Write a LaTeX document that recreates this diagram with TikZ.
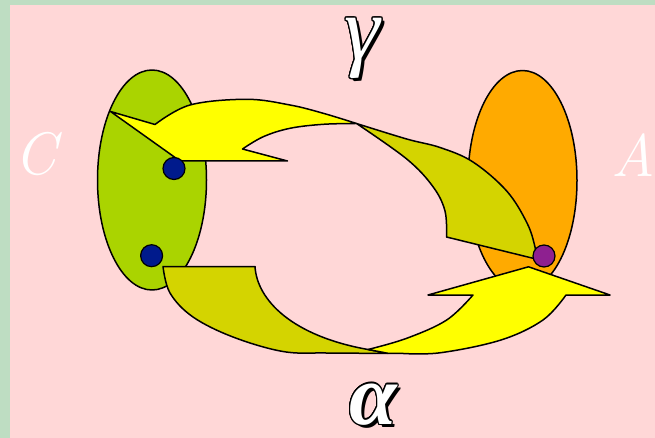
\documentclass[tikz,border=0pt]{standalone}
\usepackage{fontspec}
\usepackage{contour}
\usetikzlibrary{shapes.geometric}
\newfontfamily\grk{Liberation Serif}
\definecolor{bggreen}{HTML}{BEDDC2}
\definecolor{bgpink}{HTML}{FFD7D7}
\definecolor{limeg}{HTML}{AAD400}
\definecolor{orng}{HTML}{FFAA00}
\definecolor{yel}{HTML}{FFFF00}
\definecolor{olivey}{HTML}{D4D400}
\definecolor{dotblue}{HTML}{001A8C}
\definecolor{dotpurp}{HTML}{8E2090}
\contourlength{1.1pt}
\newcommand\embossed[1]{\makebox[0pt][l]{\hspace{3.5pt}\raisebox{-3.5pt}{\textcolor{black}{#1}}}\contour{black}{#1}}
\begin{document}
\begin{tikzpicture}[x=1pt,y=-1pt,line join=round,
  outl/.style={draw=black,line width=1.5pt},
  setell/.style={ellipse,draw=black,line width=1.5pt,minimum width=109pt,minimum height=220pt,inner sep=0pt},
  elem/.style={circle,draw=black,line width=1.2pt,minimum size=22pt,inner sep=0pt},
  catlabel/.style={text=white,font=\fontsize{60}{60}\selectfont\itshape,inner sep=0pt},
  greek/.style={text=white,inner sep=0pt}]
\useasboundingbox (0,0) rectangle (655,438);
\fill[bggreen] (0,0) rectangle (655,438);
\fill[bgpink] (10,5) rectangle (655,438);
% sets
\node[setell,fill=limeg] (setC) at (152,180) {};
\node[setell,fill=orng] (setA) at (522.5,180.5) {};
% top arrow, yellow part with head
\draw[outl,fill=yel] (110.5,111.5) -- (155,124.5)
  -- plot[smooth,tension=0.6] coordinates {(155,124.5) (190,105) (246.7,99.3) (290,105) (323.3,113.3) (356.5,123.5)}
  -- plot[smooth,tension=0.6] coordinates {(356.5,123.5) (323.3,124.3) (290,128.3) (263.3,136.7) (242.5,149)}
  -- (287.5,161) -- (180,161) -- cycle;
% top arrow, olive part
\draw[outl,fill=olivey] (356.5,123.5)
  -- plot[smooth,tension=0.6] coordinates {(356.5,123.5) (406.7,139) (440,147.5) (473,162) (506.7,191) (527,223) (535,247) (536,259)}
  -- (446.5,237)
  -- plot[smooth,tension=0.6] coordinates {(446.5,237) (445,211) (433,186.7) (406.7,159) (356.5,123.5)} -- cycle;
% bottom arrow, olive part
\draw[outl,fill=olivey] (163,266.5) -- (255,266.5)
  .. controls (257,300) and (292,336) .. (368,349.5)
  -- (388,353.3)
  -- plot[smooth,tension=0.6] coordinates {(388,353.3) (326,353) (283,351.5) (233,337) (193,317) (170,293) (163,266.5)} -- cycle;
% bottom arrow, yellow part with head
\draw[outl,fill=yel] (368,349.5)
  -- plot[smooth,tension=0.6] coordinates {(368,349.5) (406.7,338.3) (446.7,320) (473,295)}
  -- (428,295) -- (528.5,266.8) -- (610,295) -- (566,295)
  -- plot[smooth,tension=0.6] coordinates {(566,295) (543,320) (501,340) (440,352.8) (400,353.3)}
  -- (388,353.3) -- cycle;
% elements
\node[elem,fill=dotblue] (c1) at (174,168.5) {};
\node[elem,fill=dotblue] (c2) at (151.6,255.7) {};
\node[elem,fill=dotpurp] (a1) at (544,256) {};
% labels
\node[catlabel] (labC) at (35,154) {C};
\node[catlabel,anchor=west] (labA) at (611,155) {A};
\node[greek,font=\fontsize{90}{90}\selectfont\grk\itshape] (gam) at (362,50) {\embossed{γ}};
\node[greek,font=\fontsize{86}{86}\selectfont\grk\bfseries\itshape] (alp) at (373,406) {\embossed{α}};
\end{tikzpicture}
\end{document}
